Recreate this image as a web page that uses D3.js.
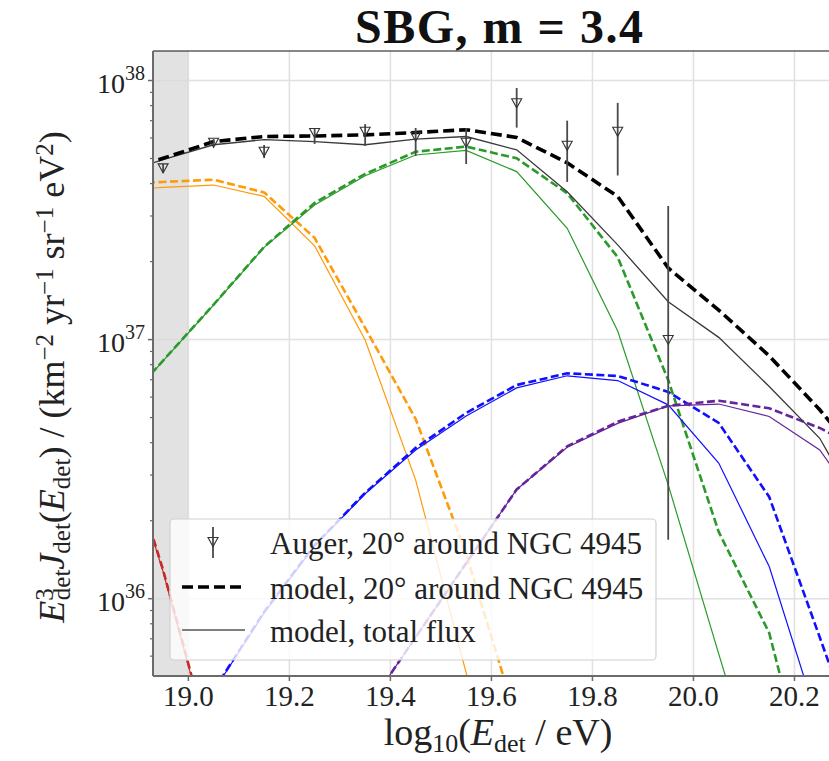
<!DOCTYPE html>
<html>
<head>
<meta charset="utf-8">
<script src="https://cdn.jsdelivr.net/npm/d3@7"></script>
<style>
  body { margin: 0; background: #fff; }
  svg { display: block; font-family: "Liberation Serif", "DejaVu Serif", serif; }
</style>
</head>
<body>
<div id="chart"></div>
<script>
// energy bins (log10 E / eV)
const logE = [18.85, 18.95, 19.05, 19.15, 19.25, 19.35, 19.45, 19.55, 19.65, 19.75, 19.85, 19.95, 20.05, 20.15, 20.25, 20.35];

// model, 20 deg around NGC 4945 (dashed) and total flux (solid)
const blackNear  = [4.36e37, 5.01e37, 5.81e37, 6.08e37, 6.11e37, 6.17e37, 6.30e37, 6.46e37, 6.03e37, 4.81e37, 3.57e37, 1.89e37, 1.30e37, 8.65e36, 5.36e36, 3.13e36];
const blackTotal = [4.28e37, 4.95e37, 5.65e37, 5.91e37, 5.81e37, 5.65e37, 5.94e37, 6.08e37, 5.40e37, 3.72e37, 2.32e37, 1.40e37, 1.02e37, 6.59e36, 4.16e36, 1.88e36];

const redNear    = [5.48e36, 1.29e36, 2.43e35, null, null, null, null, null, null, null, null, null, null, null, null, null];
const redTotal   = [5.40e36, 1.27e36, 2.40e35, null, null, null, null, null, null, null, null, null, null, null, null, null];
const orangeNear = [3.99e37, 4.06e37, 4.14e37, 3.70e37, 2.47e37, 1.11e37, 4.94e36, 1.49e36, 3.4e35, null, null, null, null, null, null, null];
const orangeTotal= [3.76e37, 3.87e37, 3.95e37, 3.57e37, 2.30e37, 9.97e36, 2.87e36, 5.17e35, 6.9e34, null, null, null, null, null, null, null];
const greenNear  = [5.05e36, 8.30e36, 1.365e37, 2.28e37, 3.37e37, 4.36e37, 5.31e37, 5.56e37, 5.01e37, 3.67e37, 2.08e37, 6.98e36, 1.81e36, 7.37e35, 1.28e35, null];
const greenTotal = [5.00e36, 8.28e36, 1.36e37, 2.27e37, 3.31e37, 4.29e37, 5.16e37, 5.37e37, 4.45e37, 2.69e37, 1.08e37, 2.75e36, 6.12e35, 1.40e35, null, null];
const blueNear   = [null, null, 4.43e35, 8.89e35, 1.61e36, 2.56e36, 3.82e36, 5.21e36, 6.68e36, 7.41e36, 7.24e36, 6.28e36, 4.77e36, 2.47e36, 7.1e35, 2.0e35];
const blueTotal  = [null, null, 4.40e35, 8.81e35, 1.60e36, 2.54e36, 3.75e36, 5.07e36, 6.51e36, 7.25e36, 6.95e36, 5.60e36, 3.34e36, 1.33e36, 3.2e35, null];
const purpleNear = [null, null, null, null, null, 3.68e35, 7.10e35, 1.37e36, 2.64e36, 3.87e36, 4.82e36, 5.55e36, 5.81e36, 5.43e36, 4.56e36, 3.59e36];
const purpleTotal= [null, null, null, null, null, 3.68e35, 7.10e35, 1.37e36, 2.64e36, 3.84e36, 4.75e36, 5.55e36, 5.64e36, 5.05e36, 3.75e36, 2.0e36];

// Auger data, 20 deg around NGC 4945
const augerE    = [18.95, 19.05, 19.15, 19.25, 19.35, 19.45, 19.55, 19.65, 19.75, 19.85, 19.95];
const augerFlux = [4.58e37, 5.75e37, 5.31e37, 6.27e37, 6.34e37, 6.07e37, 5.75e37, 8.17e37, 5.60e37, 6.34e37, 9.97e36];
const augerLow  = [4.40e37, 5.59e37, 5.02e37, 5.69e37, 5.59e37, 5.12e37, 4.76e37, 6.58e37, 4.06e37, 4.30e37, 1.69e36];
const augerHigh = [4.76e37, 5.94e37, 5.64e37, 6.56e37, 6.79e37, 6.56e37, 6.56e37, 9.36e37, 7.00e37, 8.20e37, 3.28e37];

const xTicks = [19.0, 19.2, 19.4, 19.6, 19.8, 20.0, 20.2];
const yTicks = [1e36, 1e37, 1e38];
const shadeEnd = 19.0;

const width = 829, height = 761;
const margin = {top: 51, left: 153, bottom: 85};
const plotRight = 845; // axes run past the picture edge

const svg = d3.select('#chart').append('svg')
  .attr('width', width)
  .attr('height', height);

const x = d3.scaleLinear().domain([18.93, 20.3]).range([margin.left, plotRight]);
const y = d3.scaleLog().domain([5.03e35, 1.30e38]).range([height - margin.bottom, margin.top]);

const x0 = margin.left, y0 = height - margin.bottom, yTop = margin.top;

svg.append('defs').append('clipPath').attr('id', 'plot')
  .append('rect').attr('x', x0).attr('y', yTop).attr('width', plotRight - x0).attr('height', y0 - yTop);

// shaded region below 10^19 eV
svg.append('rect')
  .attr('x', x(18.93)).attr('y', yTop)
  .attr('width', x(shadeEnd) - x(18.93)).attr('height', y0 - yTop)
  .attr('fill', '#e2e2e2');

// grid
const grid = svg.append('g').attr('stroke', '#dadada').attr('stroke-width', 1.5).attr('opacity', 0.8);
grid.selectAll('.gx').data(xTicks).enter().append('line')
  .attr('x1', d => x(d)).attr('x2', d => x(d)).attr('y1', yTop).attr('y2', y0);
grid.selectAll('.gy').data(yTicks).enter().append('line')
  .attr('x1', x0).attr('x2', plotRight).attr('y1', d => y(d)).attr('y2', d => y(d));

// model lines
const plotG = svg.append('g').attr('clip-path', 'url(#plot)');
const line = vals => d3.line()
  .defined((d, i) => vals[i] !== null)
  .x((d, i) => x(logE[i]))
  .y((d, i) => y(vals[i]))(logE);

const comps = [
  [redNear, redTotal, '#c8282a'],
  [orangeNear, orangeTotal, '#ff9a0a'],
  [greenNear, greenTotal, '#2a9a2a'],
  [blueNear, blueTotal, '#1010ff'],
  [purpleNear, purpleTotal, '#65249a']
];
comps.forEach(([near, total, col]) => {
  plotG.append('path').attr('d', line(total))
    .attr('fill', 'none').attr('stroke', col).attr('stroke-width', 1.2);
  plotG.append('path').attr('d', line(near))
    .attr('fill', 'none').attr('stroke', col).attr('stroke-width', 2.6)
    .attr('stroke-dasharray', '8,3.5');
});

plotG.append('path').attr('d', line(blackTotal))
  .attr('fill', 'none').attr('stroke', '#3a3a3a').attr('stroke-width', 1.3);
plotG.append('path').attr('d', line(blackNear))
  .attr('fill', 'none').attr('stroke', '#000').attr('stroke-width', 3.6)
  .attr('stroke-dasharray', '11,5');

// Auger points with error bars
const tri = 'M-5,-4.5L5,-4.5L0,4.5Z';
const pts = plotG.selectAll('.auger').data(augerE).enter().append('g');
pts.append('line')
  .attr('x1', d => x(d)).attr('x2', d => x(d))
  .attr('y1', (d, i) => y(augerHigh[i])).attr('y2', (d, i) => y(augerLow[i]))
  .attr('stroke', '#4a4a4a').attr('stroke-width', 1.8);
pts.append('path')
  .attr('d', tri)
  .attr('transform', (d, i) => `translate(${x(d)},${y(augerFlux[i])})`)
  .attr('fill', 'none').attr('stroke', '#333').attr('stroke-width', 1.1);

// spines
svg.append('line').attr('x1', x0).attr('x2', width).attr('y1', yTop).attr('y2', yTop)
  .attr('stroke', '#111').attr('stroke-width', 1.2);
svg.append('line').attr('x1', x0).attr('x2', x0).attr('y1', yTop).attr('y2', y0)
  .attr('stroke', '#6b6b6b').attr('stroke-width', 2);
svg.append('line').attr('x1', x0).attr('x2', width).attr('y1', y0).attr('y2', y0)
  .attr('stroke', '#6b6b6b').attr('stroke-width', 2);

// x ticks
const txtCol = '#222';
const xt = svg.append('g');
xt.selectAll('line').data(xTicks).enter().append('line')
  .attr('x1', d => x(d)).attr('x2', d => x(d)).attr('y1', y0).attr('y2', y0 + 5)
  .attr('stroke', '#6b6b6b').attr('stroke-width', 1.5);
xt.selectAll('text').data(xTicks).enter().append('text')
  .attr('x', d => x(d)).attr('y', 706)
  .attr('text-anchor', 'middle').attr('font-size', 29).attr('fill', txtCol)
  .text(d => d.toFixed(1));

// y ticks (major + minor)
const minor = [];
[35, 36, 37].forEach(p => { for (let k = 2; k <= 9; k++) minor.push(k * Math.pow(10, p)); });
const yMinor = minor.filter(v => v >= y.domain()[0] && v <= y.domain()[1]);
const yt = svg.append('g');
yt.selectAll('.mi').data(yMinor).enter().append('line')
  .attr('x1', x0 - 3).attr('x2', x0).attr('y1', d => y(d)).attr('y2', d => y(d))
  .attr('stroke', '#6b6b6b').attr('stroke-width', 1.2);
yt.selectAll('.ma').data(yTicks).enter().append('line')
  .attr('x1', x0 - 5).attr('x2', x0).attr('y1', d => y(d)).attr('y2', d => y(d))
  .attr('stroke', '#6b6b6b').attr('stroke-width', 1.5);
const ylab = yt.selectAll('text').data(yTicks).enter().append('text')
  .attr('x', x0 - 8).attr('y', d => y(d) + 12)
  .attr('text-anchor', 'end').attr('font-size', 28).attr('fill', txtCol);
ylab.append('tspan').text('10');
ylab.append('tspan').attr('font-size', 20).attr('dy', -13)
  .text(d => Math.round(Math.log10(d)));

// title
svg.append('text')
  .attr('x', 499).attr('y', 43)
  .attr('text-anchor', 'middle').attr('font-size', 48).attr('font-weight', 'bold').attr('fill', '#111')
  .attr('textLength', 288).attr('lengthAdjust', 'spacing')
  .text('SBG, m = 3.4');

// x label
const xl = svg.append('text')
  .attr('x', 498).attr('y', 745)
  .attr('text-anchor', 'middle').attr('font-size', 38).attr('fill', txtCol);
xl.append('tspan').text('log');
xl.append('tspan').attr('font-size', 26).attr('baseline-shift', '-25%').text('10');
xl.append('tspan').text('(');
xl.append('tspan').attr('font-style', 'italic').text('E');
xl.append('tspan').attr('font-size', 26).attr('baseline-shift', '-25%').text('det');
xl.append('tspan').text(' / eV)');

// y label
const yl = svg.append('text')
  .attr('transform', 'translate(64,377) rotate(-90)')
  .attr('text-anchor', 'middle').attr('font-size', 36).attr('fill', txtCol);
yl.append('tspan').attr('font-style', 'italic').text('E');
yl.append('tspan').attr('font-size', 25).attr('baseline-shift', '45%').text('3');
yl.append('tspan').attr('font-size', 25).attr('dx', -12).attr('baseline-shift', '-25%').text('det');
yl.append('tspan').attr('font-style', 'italic').text('J');
yl.append('tspan').attr('font-size', 25).attr('baseline-shift', '-25%').text('det');
yl.append('tspan').text('(');
yl.append('tspan').attr('font-style', 'italic').text('E');
yl.append('tspan').attr('font-size', 25).attr('baseline-shift', '-25%').text('det');
yl.append('tspan').text(') / (km');
yl.append('tspan').attr('font-size', 25).attr('baseline-shift', '45%').text('\u22122');
yl.append('tspan').text(' yr');
yl.append('tspan').attr('font-size', 25).attr('baseline-shift', '45%').text('\u22121');
yl.append('tspan').text(' sr');
yl.append('tspan').attr('font-size', 25).attr('baseline-shift', '45%').text('\u22121');
yl.append('tspan').text(' eV');
yl.append('tspan').attr('font-size', 25).attr('baseline-shift', '45%').text('2');
yl.append('tspan').text(')');

// legend
const leg = svg.append('g');
leg.append('rect')
  .attr('x', 170).attr('y', 519).attr('width', 486).attr('height', 141).attr('rx', 4)
  .attr('fill', '#fff').attr('fill-opacity', 0.8).attr('stroke', '#d0d0d0').attr('stroke-width', 1.2);
const legItems = ['Auger, 20\u00b0 around NGC 4945', 'model, 20\u00b0 around NGC 4945', 'model, total flux'];
const legY = [542, 587, 630];
leg.append('line').attr('x1', 213).attr('x2', 213).attr('y1', 527).attr('y2', 558)
  .attr('stroke', '#4a4a4a').attr('stroke-width', 1.8);
leg.append('path').attr('d', tri).attr('transform', `translate(213,${legY[0]})`)
  .attr('fill', 'none').attr('stroke', '#333').attr('stroke-width', 1.1);
leg.append('line').attr('x1', 182).attr('x2', 245).attr('y1', legY[1]).attr('y2', legY[1])
  .attr('stroke', '#000').attr('stroke-width', 3.6).attr('stroke-dasharray', '11,5');
leg.append('line').attr('x1', 182).attr('x2', 245).attr('y1', legY[2]).attr('y2', legY[2])
  .attr('stroke', '#555').attr('stroke-width', 1.6);
leg.selectAll('text').data(legItems).enter().append('text')
  .attr('x', 270).attr('y', (d, i) => legY[i] + 12)
  .attr('font-size', 31).attr('fill', txtCol)
  .text(d => d);
</script>
</body>
</html>
